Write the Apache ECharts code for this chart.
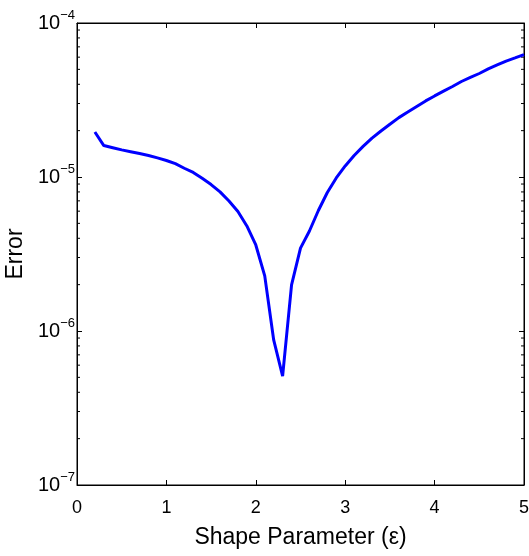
<!DOCTYPE html>
<html>
<head>
    <meta charset="utf-8">
    <title>Error vs Shape Parameter</title>
    <script type="text/javascript" src="https://cdn.jsdelivr.net/npm/echarts@6/dist/echarts.min.js"></script>
    <style>
        html, body { margin: 0; padding: 0; background: #fff; }
    </style>
</head>
<body>
<div id="main" style="width:529px;height:556px;"></div>

<script type="text/javascript">
    // shape parameter values
    var epsValues = [0.2, 0.3, 0.4, 0.5, 0.6, 0.7, 0.8, 0.9, 1.0,
        1.1, 1.2, 1.3, 1.4, 1.5, 1.6, 1.7, 1.8, 1.9, 2.0,
        2.1, 2.2, 2.3, 2.4, 2.5, 2.6, 2.7, 2.8, 2.9, 3.0,
        3.1, 3.2, 3.3, 3.4, 3.5, 3.6, 3.7, 3.8, 3.9, 4.0,
        4.1, 4.2, 4.3, 4.4, 4.5, 4.6, 4.7, 4.8, 4.9, 5.0];
    // error
    var errValues = [1.96e-5, 1.60e-5, 1.55e-5, 1.50e-5, 1.46e-5, 1.42e-5, 1.38e-5, 1.33e-5, 1.28e-5,
        1.22e-5, 1.14e-5, 1.07e-5, 9.8e-6, 8.93e-6, 8.0e-6, 6.98e-6, 5.97e-6, 4.81e-6, 3.62e-6,
        2.28e-6, 8.75e-7, 5.1e-7, 1.99e-6, 3.45e-6, 4.46e-6, 6.06e-6, 7.93e-6, 9.86e-6, 1.18e-5,
        1.38e-5, 1.58e-5, 1.79e-5, 1.99e-5, 2.2e-5, 2.43e-5, 2.64e-5, 2.87e-5, 3.12e-5, 3.36e-5,
        3.61e-5, 3.87e-5, 4.17e-5, 4.43e-5, 4.70e-5, 5.03e-5, 5.34e-5, 5.66e-5, 5.93e-5, 6.24e-5];
    // minor ticks of the log axis (2..9 in each decade)
    var minorTickValues = [];
    [1e-7, 1e-6, 1e-5].forEach(function (d) {
        for (var k = 2; k <= 9; k++) minorTickValues.push(k * d);
    });

    var font = 'Liberation Sans, Arial, Helvetica, sans-serif';
    var chart = echarts.init(document.getElementById('main'));

    function powLabel(v) {
        var e = Math.round(Math.log(v) / Math.LN10);
        return '{b|10}{s|\u2212' + Math.abs(e) + '}';
    }

    function frame(extra) {
        return Object.assign({
            axisLine: {show: true, onZero: false, lineStyle: {color: '#000', width: 1}},
            axisTick: {show: true, inside: true, length: 5, lineStyle: {color: '#000'}},
            splitLine: {show: false}
        }, extra);
    }

    var option = {
        backgroundColor: '#fff',
        animation: false,
        grid: {
            left: 77, right: 5, top: 23, bottom: 71, containLabel: false, outerBoundsMode: 'none',
            show: true, borderColor: '#000', borderWidth: 1, backgroundColor: 'transparent'
        },
        xAxis: [
            frame({
                type: 'value', min: 0, max: 5, interval: 1,
                name: 'Shape Parameter (\u03b5)',
                nameLocation: 'middle', nameGap: 41,
                nameTextStyle: {fontFamily: font, fontSize: 23, color: '#000'},
                axisLabel: {fontFamily: font, fontSize: 18, color: '#000', margin: 14}
            }),
            frame({
                type: 'value', min: 0, max: 5, interval: 1, position: 'top',
                axisLabel: {show: false}
            })
        ],
        yAxis: [
            frame({
                type: 'log', logBase: 10, min: 1e-7, max: 1e-4, splitNumber: 3,
                name: 'Error', nameLocation: 'middle', nameGap: 47,
                nameTextStyle: {fontFamily: font, fontSize: 23, color: '#000'},
                axisLabel: {
                    margin: 2,
                    formatter: powLabel,
                    rich: {
                        b: {fontFamily: font, fontSize: 20, color: '#000'},
                        s: {fontFamily: font, fontSize: 13, color: '#000', padding: [0, 0, 15, 0]}
                    }
                }
            }),
            frame({
                type: 'log', logBase: 10, min: 1e-7, max: 1e-4, splitNumber: 3, position: 'right',
                axisLabel: {show: false}
            })
        ],
        series: [
            {
                type: 'line',
                data: epsValues.map(function (x, i) { return [x, errValues[i]]; }),
                symbol: 'none',
                lineStyle: {color: '#0000ff', width: 3},
                z: 5
            },
            {
                // minor log ticks on left and right frame
                type: 'custom',
                silent: true,
                clip: false,
                data: minorTickValues.map(function (v) { return [0, v]; }),
                renderItem: function (params, api) {
                    var v = api.value(1);
                    var l = api.coord([0, v]);
                    var r = api.coord([5, v]);
                    var st = {stroke: '#000', lineWidth: 1};
                    return {
                        type: 'group',
                        children: [
                            {type: 'line', shape: {x1: l[0], y1: l[1], x2: l[0] + 3, y2: l[1]}, style: st},
                            {type: 'line', shape: {x1: r[0] - 3, y1: r[1], x2: r[0], y2: r[1]}, style: st}
                        ]
                    };
                }
            }
        ]
    };
    chart.setOption(option);
</script>
</body>
</html>
